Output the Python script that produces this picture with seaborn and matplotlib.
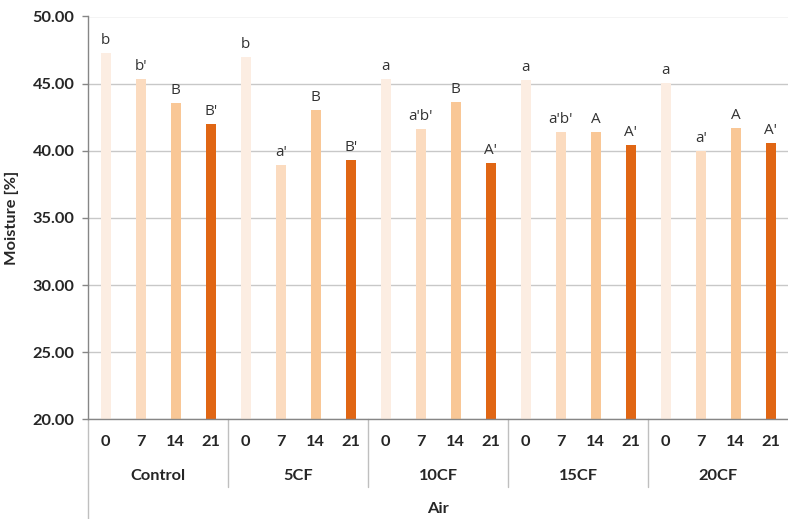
import matplotlib
matplotlib.use("Agg")
import matplotlib.pyplot as plt
import matplotlib.transforms as mtransforms
import seaborn as sns
import pandas as pd

# Storage treatments and sampling days
groups = ["Control", "5CF", "10CF", "15CF", "20CF"]
days = ["0", "7", "14", "21"]

# Moisture content [%] per treatment, in day order 0, 7, 14, 21
control = [47.30, 45.34, 43.55, 42.00]
cf5 = [46.98, 38.96, 43.05, 39.31]
cf10 = [45.34, 41.62, 43.63, 39.08]
cf15 = [45.27, 41.39, 41.39, 40.43]
cf20 = [45.04, 39.98, 41.69, 40.57]

# Significance letters shown above each bar
letters_control = ["b", "b'", "B", "B'"]
letters_5cf = ["b", "a'", "B", "B'"]
letters_10cf = ["a", "a'b'", "B", "A'"]
letters_15cf = ["a", "a'b'", "A", "A'"]
letters_20cf = ["a", "a'", "A", "A'"]

atmosphere = "Air"

series = [control, cf5, cf10, cf15, cf20]
letters = [letters_control, letters_5cf, letters_10cf, letters_15cf, letters_20cf]

rows = []
for g, vals, labs in zip(groups, series, letters):
    for d, v, l in zip(days, vals, labs):
        rows.append({"slot": f"{g}|{d}", "group": g, "day": d, "moisture": v, "letter": l})
df = pd.DataFrame(rows)

palette = {"0": "#FCEDE2", "7": "#FBDBBF", "14": "#F9C796", "21": "#E06614"}

sns.set_theme(style="white")
plt.rcParams["font.family"] = ["Lato", "DejaVu Sans"]

BOLD = dict(fontsize=11.8, fontweight="bold", color="#262626")

fig = plt.figure(figsize=(7.88, 5.19), dpi=100)
ax = fig.add_axes([88.3 / 788, 99.7 / 519, 700 / 788, 402.8 / 519])

sns.barplot(data=df, x="slot", y="moisture", hue="day", palette=palette,
            dodge=False, width=0.27, legend=False, ax=ax, order=list(df["slot"]),
            saturation=1, edgecolor="none", linewidth=0)

yticks = [20, 25, 30, 35, 40, 45, 50]
ax.set_ylim(20, 50)
ax.set_xlim(-0.5, len(df) - 0.5)
ax.set_yticks(yticks)
ax.set_yticklabels([f"{t:.2f}" for t in yticks], **BOLD)
ax.grid(axis="y", color="#C8C8C8", linewidth=1)
ax.set_axisbelow(True)

ax.set_xticks(range(len(df)))
ax.set_xticklabels(df["day"], **BOLD)
ax.tick_params(axis="x", length=0, pad=11)
ax.tick_params(axis="y", length=4, width=1, color="#868686", pad=6, left=True)

for side in ["top", "right"]:
    ax.spines[side].set_visible(False)
for side in ["left", "bottom"]:
    ax.spines[side].set_color("#868686")
    ax.spines[side].set_linewidth(1)

ax.set_xlabel("")
ax.set_ylabel("Moisture [%]", **BOLD)
ax.yaxis.set_label_coords(-(88.3 - 19) / 700, 0.5)

# Letters above bars
for i, row in df.iterrows():
    ax.annotate(row["letter"], (i, row["moisture"]), xytext=(0, 6.3),
                textcoords="offset points", ha="center", va="baseline",
                fontsize=11, color="#333333", family=["Open Sans", "DejaVu Sans"])

# Group labels, separators and the atmosphere label beneath the axis
trans = mtransforms.blended_transform_factory(ax.transData, ax.transAxes)
n = len(days)
for k, g in enumerate(groups):
    center = k * n + (n - 1) / 2
    ax.text(center, -(476 - 419.3) / 402.8, g, transform=trans, ha="center",
            va="center", **BOLD)
for k in range(1, len(groups)):
    xb = k * n - 0.5
    ax.plot([xb, xb], [0, -(486.7 - 419.3) / 402.8], transform=trans,
            color="#BFBFBF", linewidth=1, clip_on=False)
ax.plot([-0.5, -0.5], [0, -(519 - 419.3) / 402.8], transform=trans,
        color="#BFBFBF", linewidth=1, clip_on=False)
ax.text(0.5, -(509 - 419.3) / 402.8, atmosphere, transform=ax.transAxes,
        ha="center", va="center", **BOLD)

fig.savefig("out.png", dpi=100)
